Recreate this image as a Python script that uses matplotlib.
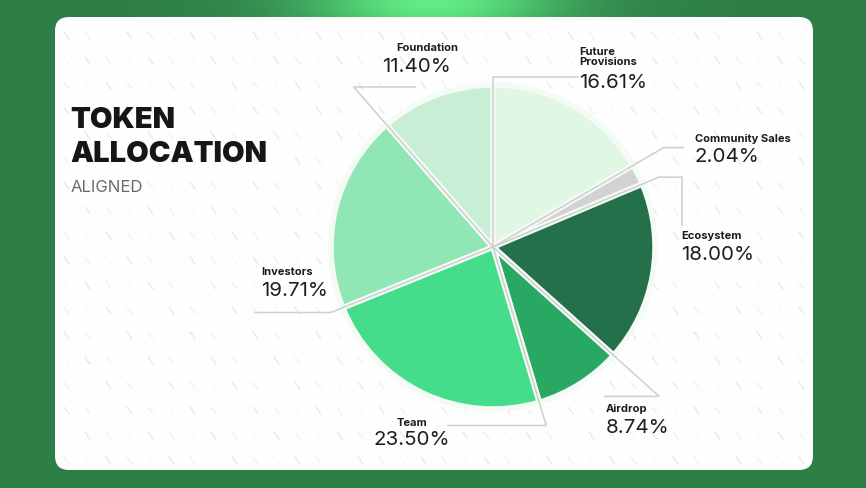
import numpy as np
import matplotlib.pyplot as plt
from matplotlib.patches import FancyBboxPatch

# Data
labels = ["Future\nProvisions", "Community Sales", "Ecosystem", "Airdrop",
          "Team", "Investors", "Foundation"]
shares = [16.61, 2.04, 18.00, 8.74, 23.50, 19.71, 11.40]
colors = ["#e0f8e3", "#d2d2d2", "#23704a", "#28a862", "#45dc8b", "#90e6b4", "#c8efd5"]

W, H = 866, 488
cx, cy, R = 493, H - 247, 162

fig = plt.figure(figsize=(W / 100, H / 100), dpi=100)
ax = fig.add_axes([0, 0, 1, 1])
ax.set_xlim(0, W)
ax.set_ylim(0, H)
ax.axis("off")

# background with glow at top
xx, yy = np.meshgrid(np.linspace(0, W, 300), np.linspace(0, H, 200))
glow = np.exp(-(((xx - 433) / 130) ** 2 + ((yy - H) / 40) ** 2))
base = np.array([0.18, 0.50, 0.28])
light = np.array([0.38, 0.93, 0.52])
img = base + glow[..., None] * (light - base)
ax.imshow(img, extent=[0, W, 0, H], origin="lower", zorder=0, aspect="auto")

card = FancyBboxPatch((55, H - 470), 758, 453, boxstyle="round,pad=0,rounding_size=14",
                      fc="#fdfefd", ec="none", zorder=1)
ax.add_patch(card)

# faint diagonal dash texture
for j, py in enumerate(np.arange(32, 462, 25)):
    for i, px in enumerate(np.arange(64, 800, 21)):
        a = [0.55, 0.3, 0.15][(i + 2 * j) % 3]
        ax.plot([px, px + 5], [H - py, H - py - 7], color="#d5d8db", lw=1.0,
                alpha=a, zorder=1.5, solid_capstyle="round")

# pie
wedges, _ = ax.pie(shares, colors=colors, startangle=90, counterclock=False,
                   center=(cx, cy), radius=R, explode=[0.05] * len(shares),
                   wedgeprops=dict(edgecolor="#f4fbf5", linewidth=4), frame=True)
for w in wedges:
    w.set_zorder(3)
ax.set_xlim(0, W)
ax.set_ylim(0, H)
ax.axis("off")

# boundary angles
bounds = 90 - 360 * np.concatenate([[0], np.cumsum(shares)[:-1]]) / sum(shares)

# leader lines: (boundary angle, bend radius, extra path points in pixels)
leaders = [
    (bounds[0], 1.05, [(578, None)]),
    (bounds[1], 1.22, [(683, None)]),
    (bounds[2], 1.11, [(682, None), (682, 225)]),
    (bounds[3], 1.38, [(605, None)]),
    (bounds[4], 1.15, [(448, None)]),
    (bounds[5], 1.08, [(255, None)]),
    (bounds[6], 1.31, [(415, None)]),
]
for ang, r, path in leaders:
    t = np.radians(ang)
    bx, by = cx + r * R * np.cos(t), cy + r * R * np.sin(t)
    xs, ys = [cx, bx], [cy, by]
    for px, py in path:
        xs.append(px)
        ys.append(ys[-1] if py is None else H - py)
    ax.plot(xs, ys, color="#cdcfcf", lw=1.1, zorder=4, solid_joinstyle="miter")

# labels: (name x, name y, pct y, alignment)
label_pos = [
    (579, 57, 83, "left"),
    (695, 139, 157, "left"),
    (681, 236, 255, "left"),
    (606, 409, 428, "left"),
    (412, 423, 440, "center"),
    (261, 272, 291, "left"),
    (396, 48, 67, "left"),
]
for name, val, (lx, ny, py, ha) in zip(labels, shares, label_pos):
    ax.text(lx, H - ny, name, fontsize=8, fontweight="bold", family="Inter",
            color="#1b1b1b", ha=ha, va="center", linespacing=1.0, zorder=5)
    px = lx - 14 if name == "Foundation" else lx
    ax.text(px, H - py, f"{val:.2f}%", fontsize=14.8, family="Inter",
            color="#1e1e1e", ha=ha, va="center", zorder=5)

# title
ax.text(70, H - 120, "TOKEN", fontsize=21, fontweight="black", family="Inter",
        color="#161616", va="center", zorder=5)
ax.text(70, H - 155, "ALLOCATION", fontsize=21, fontweight="black", family="Inter",
        color="#161616", va="center", zorder=5)
ax.text(71, H - 187, "ALIGNED", fontsize=12, family="Inter", color="#6a6a6a",
        va="center", zorder=5)

fig.savefig("out.png", dpi=100)
